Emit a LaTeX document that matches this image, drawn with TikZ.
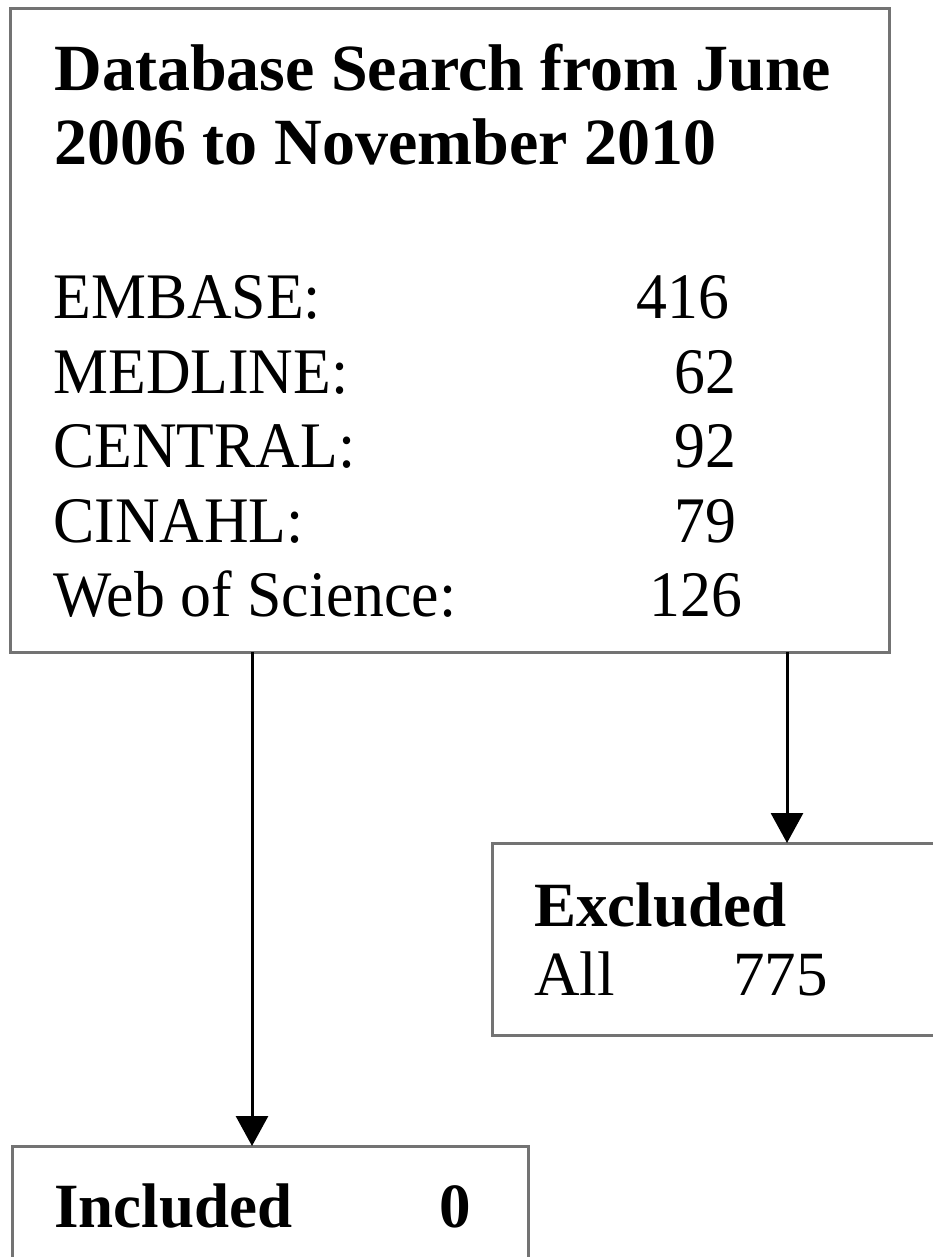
\documentclass[tikz,border=0pt]{standalone}
\usepackage{fontspec}
\setmainfont{Liberation Serif}
\newfontfamily\voci[FakeStretch=0.95]{Liberation Serif}
\usetikzlibrary{arrows.meta,positioning,calc}

\tikzset{
  riquadro/.style={draw=black!55, line width=1.5pt, rectangle, inner sep=0pt, outer sep=0pt},
  freccia/.style={line width=1.5pt, -{Triangle[width=16pt,length=15pt]}},
  titolo/.style={anchor=base west, inner sep=0pt, font=\fontsize{33}{37}\selectfont\bfseries},
  voce/.style={anchor=base west, inner sep=0pt, font=\voci\fontsize{32.5}{37}\selectfont},
  numero/.style={anchor=base east, inner sep=0pt, font=\voci\fontsize{32.5}{37}\selectfont},
  esito/.style={anchor=base west, inner sep=0pt, font=\fontsize{31.5}{36}\selectfont},
}

\begin{document}
\begin{tikzpicture}[x=0.5pt,y=-0.5pt]
            \useasboundingbox (0,0) rectangle (932,1257);

            % Riquadri
            \node[riquadro, minimum width=439.5pt, minimum height=321.5pt] (search) at (449.5,330.5) {};
            \node[riquadro, minimum width=304pt, minimum height=96pt] (excl) at (796,939) {};
            \node[riquadro, minimum width=258pt, minimum height=87pt] (incl) at (270,1233) {};

            % Frecce
            \coordinate (uscitaA) at (252,652);
            \coordinate (uscitaB) at (787,652);
            \draw[freccia] (uscitaA) -- (uscitaA |- incl.north);
            \draw[freccia] (uscitaB) -- (uscitaB |- excl.north);

            % Titolo
            \node[titolo] (tit1) at (54,91) {Database Search from June};
            \node[titolo] (tit2) at (54,165) {2006 to November 2010};

            % Banche dati e conteggi
            \foreach \nome/\num/\y/\xr [count=\i] in {EMBASE:/416/318/730, MEDLINE:/62/393/737, CENTRAL:/92/467/737, CINAHL:/79/542/737, Web of Science:/126/616/743}
            {
                \node[voce] (db\i) at (53,\y) {\nome};
                \node[numero] (num\i) at (\xr,\y) {\num};
            }

            % Esclusi
            \node[esito, font=\fontsize{31.5}{36}\selectfont\bfseries] (exlab) at (534,926) {Excluded};
            \node[esito] (alllab) at (534,995) {All};
            \node[esito] (allnum) at (733,995) {775};

            % Inclusi
            \node[esito, font=\fontsize{31.5}{36}\selectfont\bfseries] (inlab) at (54,1227) {Included};
            \node[esito, font=\fontsize{31.5}{36}\selectfont\bfseries] (innum) at (439,1227) {0};
\end{tikzpicture}
\end{document}
